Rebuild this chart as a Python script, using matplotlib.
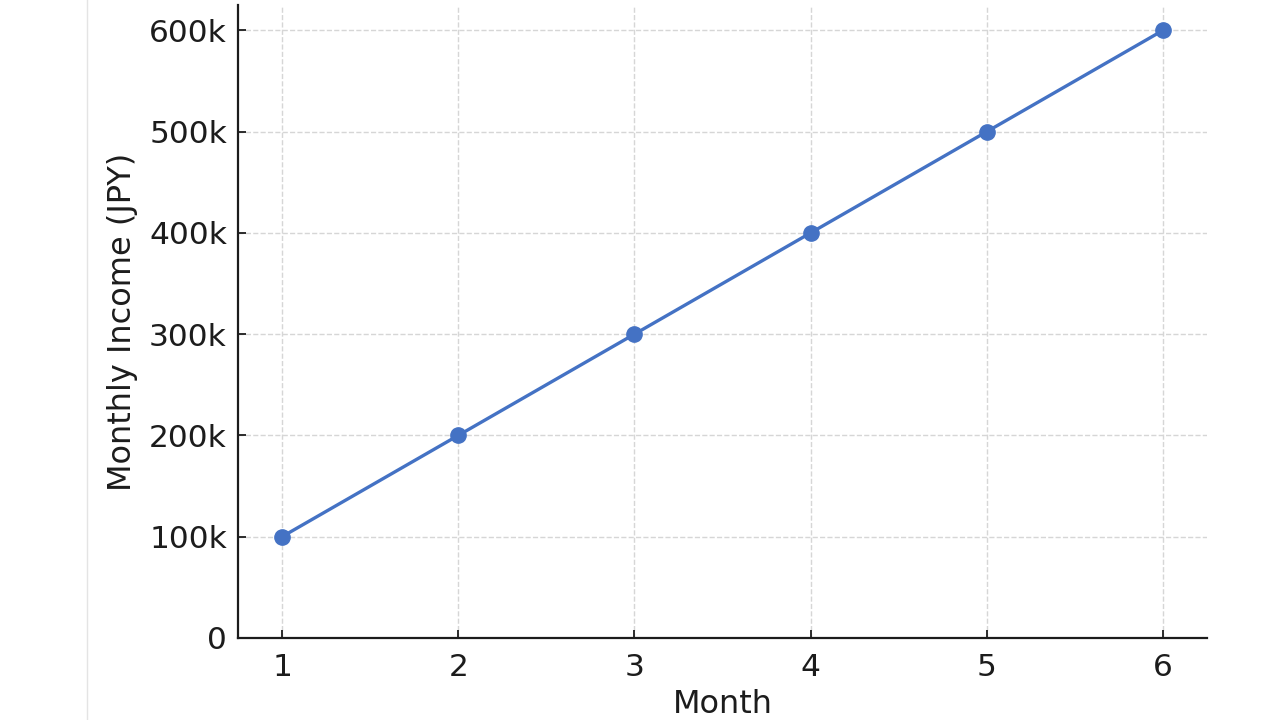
import numpy as np
import matplotlib.pyplot as plt
from matplotlib.lines import Line2D
from matplotlib.ticker import FuncFormatter

# data
months = [1, 2, 3, 4, 5, 6]
income = [100000, 200000, 300000, 400000, 500000, 600000]

line_colour = "#4472C4"
text_colour = "#1c1c1c"

fig = plt.figure(figsize=(12.8, 7.2), dpi=100)
ax = fig.add_axes([0.186, 0.114, 0.757, 0.879])

ax.plot(months, income, color=line_colour, linewidth=2.4, marker="o", markersize=11)

ax.set_xlim(0.75, 6.25)
ax.set_ylim(0, 625000)
ax.set_xticks(months)
ax.set_yticks(np.arange(0, 600001, 100000))
ax.yaxis.set_major_formatter(FuncFormatter(lambda v, p: "0" if v == 0 else f"{int(v / 1000)}k"))

ax.grid(True, linestyle="--", color="#d6d6d6", linewidth=1)
ax.set_axisbelow(True)
for side in ["top", "right"]:
    ax.spines[side].set_visible(False)
for side in ["left", "bottom"]:
    ax.spines[side].set_linewidth(1.6)
    ax.spines[side].set_color(text_colour)

ax.tick_params(direction="in", length=6, width=1.3, labelsize=22.5, colors=text_colour)
ax.tick_params(axis="x", pad=11)
ax.tick_params(axis="y", pad=8)

ax.set_xlabel("Month", fontsize=23, color=text_colour, labelpad=5)
ax.set_ylabel("Monthly Income (JPY)", fontsize=23, color=text_colour, labelpad=8)

# faint border line on the left of the picture
fig.add_artist(Line2D([87 / 1280, 87 / 1280], [0, 1], color="#e4e4e4", linewidth=1))

fig.savefig("out.png", dpi=100)
